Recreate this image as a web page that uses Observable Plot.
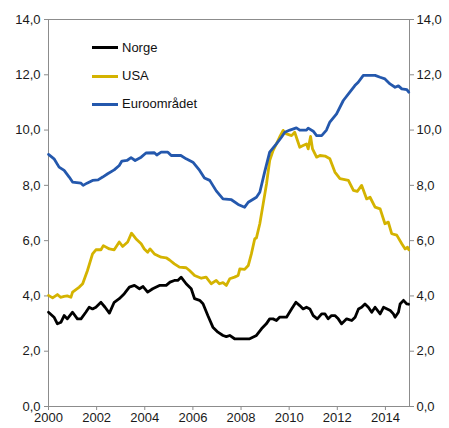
<!DOCTYPE html>
<html>
<head>
<meta charset="utf-8">
<script src="https://cdn.jsdelivr.net/npm/d3@7"></script>
<script src="https://cdn.jsdelivr.net/npm/@observablehq/plot@0.6"></script>
<style>
  html, body { margin: 0; padding: 0; background: #fff; }
  #wrap { position: relative; width: 449px; height: 428px; font-family: "Liberation Sans", Arial, sans-serif; }
  .leg { position: absolute; left: 92px; height: 0; font-size: 13px; color: #111; }
  .leg .ln { position: absolute; left: 0; width: 26px; height: 3px; top: -1.5px; }
  .leg .tx { position: absolute; left: 30px; top: -8px; white-space: nowrap; line-height: 16px; }
</style>
</head>
<body>
<div id="wrap"></div>
<script>
const seriesNames = ["Norge", "USA", "Euroområdet"];
const seriesColors = ["#000000", "#d4b300", "#2458ad"];
const xTicks = [2000, 2002, 2004, 2006, 2008, 2010, 2012, 2014];
const yTicks = [0, 2, 4, 6, 8, 10, 12, 14];

const norge = [
  [2000.00,3.41],[2000.23,3.23],[2000.37,2.99],[2000.52,3.05],[2000.65,3.29],[2000.78,3.17],
  [2001.00,3.41],[2001.20,3.17],[2001.35,3.17],[2001.55,3.41],[2001.69,3.59],[2001.83,3.53],
  [2001.97,3.59],[2002.18,3.77],[2002.35,3.59],[2002.53,3.38],[2002.73,3.77],[2002.94,3.90],
  [2003.15,4.08],[2003.36,4.32],[2003.57,4.38],[2003.78,4.26],[2003.93,4.34],[2004.12,4.14],
  [2004.33,4.26],[2004.61,4.38],[2004.89,4.38],[2005.05,4.50],[2005.23,4.56],[2005.37,4.56],
  [2005.51,4.68],[2005.72,4.44],[2005.93,4.26],[2006.07,3.90],[2006.28,3.84],[2006.42,3.72],
  [2006.62,3.29],[2006.83,2.87],[2007.04,2.69],[2007.25,2.57],[2007.39,2.53],[2007.53,2.57],
  [2007.73,2.45],[2008.36,2.45],[2008.64,2.57],[2008.85,2.81],[2009.05,2.99],[2009.19,3.17],
  [2009.33,3.17],[2009.47,3.11],[2009.60,3.23],[2009.89,3.23],[2010.10,3.53],[2010.28,3.77],
  [2010.44,3.65],[2010.58,3.53],[2010.72,3.59],[2010.86,3.53],[2011.00,3.29],[2011.17,3.17],
  [2011.35,3.35],[2011.49,3.35],[2011.62,3.17],[2011.76,3.29],[2011.90,3.29],[2012.04,3.17],
  [2012.18,2.99],[2012.39,3.17],[2012.60,3.11],[2012.74,3.23],[2012.88,3.53],[2013.01,3.59],
  [2013.15,3.71],[2013.29,3.59],[2013.43,3.41],[2013.57,3.59],[2013.78,3.35],[2013.92,3.59],
  [2014.20,3.47],[2014.33,3.35],[2014.40,3.23],[2014.54,3.41],[2014.61,3.71],[2014.75,3.84],
  [2014.89,3.71],[2014.96,3.70]
];

const usa = [
  [2000.00,4.02],[2000.17,3.93],[2000.37,4.05],[2000.50,3.95],[2000.65,3.98],[2000.78,4.00],
  [2000.93,3.95],[2001.00,4.14],[2001.28,4.32],[2001.42,4.44],[2001.62,4.92],[2001.83,5.52],
  [2001.97,5.67],[2002.18,5.67],[2002.28,5.82],[2002.53,5.70],[2002.73,5.67],[2002.94,5.95],
  [2003.08,5.79],[2003.29,5.95],[2003.45,6.27],[2003.63,6.07],[2003.85,5.89],[2003.98,5.70],
  [2004.12,5.58],[2004.22,5.70],[2004.40,5.52],[2004.68,5.40],[2004.89,5.38],[2005.03,5.30],
  [2005.23,5.16],[2005.44,5.04],[2005.72,5.02],[2005.86,4.92],[2006.07,4.74],[2006.35,4.64],
  [2006.55,4.68],[2006.76,4.44],[2006.97,4.56],[2007.10,4.44],[2007.25,4.48],[2007.39,4.38],
  [2007.53,4.62],[2007.73,4.68],[2007.88,4.74],[2007.95,4.98],[2008.15,4.96],[2008.30,5.10],
  [2008.43,5.52],[2008.57,6.07],[2008.64,6.10],[2008.78,6.61],[2008.92,7.33],[2009.06,8.06],
  [2009.19,8.90],[2009.33,9.26],[2009.47,9.50],[2009.60,9.74],[2009.75,9.99],[2009.89,9.86],
  [2010.10,9.80],[2010.23,9.92],[2010.37,9.56],[2010.44,9.38],[2010.58,9.44],[2010.72,9.50],
  [2010.79,9.32],[2010.89,9.77],[2010.97,9.32],[2011.14,9.02],[2011.28,9.08],[2011.49,9.06],
  [2011.69,8.96],[2011.90,8.48],[2012.11,8.24],[2012.46,8.18],[2012.67,7.82],[2012.83,7.78],
  [2013.01,8.00],[2013.22,7.51],[2013.36,7.57],[2013.57,7.21],[2013.78,7.15],[2013.98,6.61],
  [2014.12,6.67],[2014.26,6.25],[2014.47,6.20],[2014.68,5.89],[2014.82,5.70],[2014.92,5.76],
  [2014.97,5.67]
];

const euro = [
  [2000.00,9.12],[2000.23,8.96],[2000.44,8.66],[2000.65,8.54],[2000.86,8.30],[2001.00,8.12],
  [2001.35,8.08],[2001.44,8.00],[2001.60,8.08],[2001.83,8.18],[2002.06,8.20],[2002.25,8.30],
  [2002.46,8.42],[2002.73,8.56],[2002.94,8.72],[2003.05,8.88],[2003.26,8.90],[2003.43,9.00],
  [2003.60,8.90],[2003.85,9.02],[2004.05,9.17],[2004.40,9.18],[2004.50,9.10],[2004.68,9.20],
  [2004.96,9.20],[2005.10,9.08],[2005.50,9.08],[2005.72,8.96],[2006.00,8.84],[2006.28,8.54],
  [2006.48,8.27],[2006.70,8.18],[2006.97,7.80],[2007.25,7.51],[2007.60,7.48],[2007.88,7.31],
  [2008.15,7.21],[2008.30,7.39],[2008.64,7.57],[2008.78,7.75],[2008.98,8.48],[2009.19,9.20],
  [2009.47,9.50],[2009.68,9.74],[2009.82,9.92],[2010.03,10.00],[2010.30,10.08],[2010.44,10.00],
  [2010.72,10.00],[2010.79,10.07],[2011.00,9.96],[2011.14,9.80],[2011.35,9.80],[2011.55,10.00],
  [2011.69,10.29],[2011.97,10.59],[2012.25,11.07],[2012.52,11.37],[2012.73,11.61],[2012.87,11.73],
  [2013.08,11.98],[2013.57,11.98],[2013.78,11.91],[2013.98,11.85],[2014.19,11.67],[2014.40,11.55],
  [2014.54,11.60],[2014.68,11.49],[2014.89,11.46],[2014.97,11.37]
];

const allSeries = [norge, usa, euro];
const fmtY = d => d.toFixed(1).replace(".", ",");
const axisGray = "#8c8c8c";
const textCol = "#1a1a1a";

const lineMarks = allSeries.map((s, i) =>
  Plot.line(s, {x: d => d[0], y: d => d[1], stroke: seriesColors[i], strokeWidth: 2.8, strokeLinejoin: "round", strokeLinecap: "round"})
);

const chart = Plot.plot({
  width: 449,
  height: 428,
  marginLeft: 48,
  marginRight: 40,
  marginTop: 19,
  marginBottom: 22,
  style: {fontFamily: "'Liberation Sans', Arial, sans-serif", fontSize: "13px", color: textCol, background: "#fff"},
  x: {domain: [2000, 2015]},
  y: {domain: [0, 14]},
  marks: [
    Plot.frame({stroke: axisGray, strokeWidth: 1}),
    Plot.axisY({anchor: "left", ticks: yTicks, tickFormat: fmtY, tickSize: 4, tickPadding: 4, label: null, stroke: axisGray, fill: textCol, fontSize: 13}),
    Plot.axisY({anchor: "right", ticks: yTicks, tickFormat: fmtY, tickSize: 4, tickPadding: 3, label: null, stroke: axisGray, fill: textCol, fontSize: 13}),
    Plot.axisX({ticks: xTicks, tickFormat: d => String(d), tickSize: 4, tickPadding: 2, label: null, stroke: axisGray, fill: textCol, fontSize: 13}),
    ...lineMarks
  ]
});

const wrap = document.getElementById("wrap");
wrap.appendChild(chart);

const legendTops = [47.7, 76, 104.3];
seriesNames.forEach((name, i) => {
  const item = document.createElement("div");
  item.className = "leg";
  item.style.top = legendTops[i] + "px";
  const ln = document.createElement("div");
  ln.className = "ln";
  ln.style.background = seriesColors[i];
  const tx = document.createElement("div");
  tx.className = "tx";
  tx.textContent = name;
  item.appendChild(ln);
  item.appendChild(tx);
  wrap.appendChild(item);
});
</script>
</body>
</html>
